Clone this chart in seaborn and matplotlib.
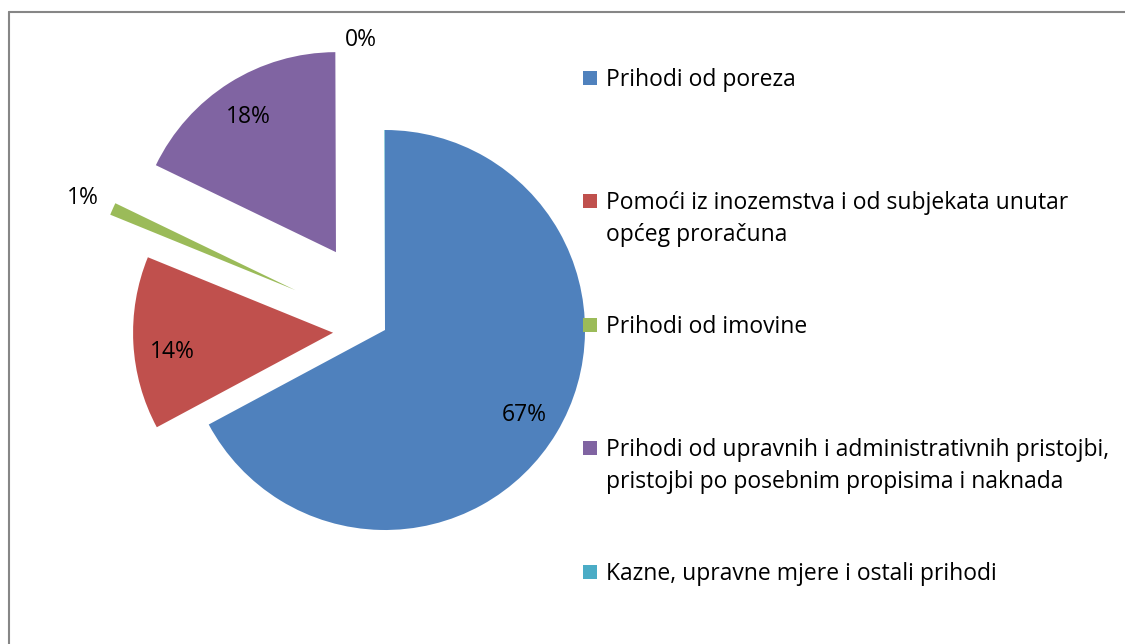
import matplotlib
matplotlib.use("Agg")
import matplotlib.pyplot as plt
from matplotlib.patches import Rectangle
import seaborn as sns

# data
categories = [
    "Prihodi od poreza",
    "Pomoći iz inozemstva i od subjekata unutar\nopćeg proračuna",
    "Prihodi od imovine",
    "Prihodi od upravnih i administrativnih pristojbi,\npristojbi po posebnim propisima i naknada",
    "Kazne, upravne mjere i ostali prihodi",
]
shares = [67.2, 14.0, 1.0, 17.8, 0.05]
pct_labels = ["67%", "14%", "1%", "18%", "0%"]
explode = [0.0, 0.26, 0.49, 0.46, 0.0]
colors = ["#4F81BD", "#C0504D", "#9BBB59", "#8064A2", "#4BACC6"]

sns.set_theme(style="white")
plt.rcParams["font.family"] = ["Open Sans", "DejaVu Sans"]

W, H = 1125, 644
cx, cy, R = 385, 330, 200   # pie centre / radius in pixels
FS = 16.5
LINE_PX = 32                # legend line pitch in px

fig = plt.figure(figsize=(W / 100, H / 100), dpi=100)
ax = fig.add_axes([0, 0, 1, 1])

wedges, _ = ax.pie(shares, colors=colors, startangle=90, counterclock=False,
                   explode=explode, radius=1.0,
                   wedgeprops={"linewidth": 0})
ax.set_aspect("equal")
ax.set_xlim(-cx / R, (W - cx) / R)
ax.set_ylim(-(H - cy) / R, cy / R)
ax.axis("off")

# percentage labels
lab_pos = [(0.695, -0.425), (-1.065, -0.11), (-1.51, 0.66), (-0.685, 1.065), (-0.12, 1.45)]
for (x, y), t in zip(lab_pos, pct_labels):
    ax.text(x, y, t, ha="center", va="center", fontsize=FS, color="black")

# legend, laid out like the original (marker beside the first line)
leg_base = [86, 209, 333, 456, 580]   # baseline of first line, px from top
for yb, lab, col in zip(leg_base, categories, colors):
    n_extra = lab.count("\n")
    # multi-line text is anchored on its last baseline
    fig.text(606 / W, 1 - (yb + n_extra * LINE_PX) / H, lab, ha="left", va="baseline",
             fontsize=FS, color="black", linespacing=1.44)
    fig.add_artist(Rectangle((583 / W, 1 - (yb - 1) / H), 14 / W, 14 / H,
                             transform=fig.transFigure, facecolor=col, edgecolor="none"))

# chart frame (only top and left edges fall inside the picture)
fig.add_artist(plt.Line2D([8.5 / W, 8.5 / W], [0, 1 - 11.5 / H], transform=fig.transFigure,
                          color="#868686", lw=1.5))
fig.add_artist(plt.Line2D([8.5 / W, 1], [1 - 11.5 / H, 1 - 11.5 / H], transform=fig.transFigure,
                          color="#868686", lw=1.5))

fig.savefig("out.png", dpi=100, facecolor="white")
